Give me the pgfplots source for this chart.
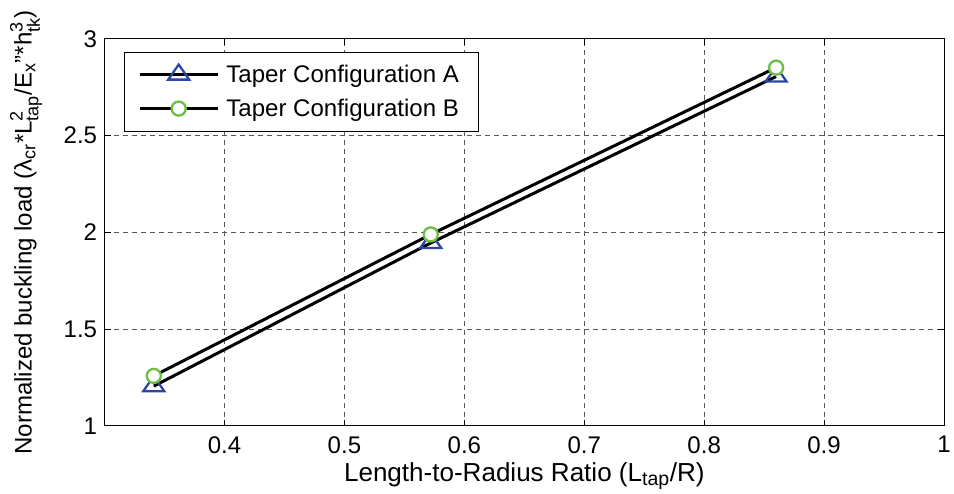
\documentclass[border=0pt]{standalone}
\usepackage{fontspec}
\setmainfont{Liberation Sans}
\usepackage{amsmath}
\usepackage{pgfplots}
\pgfplotsset{compat=1.18}
\DeclareMathSizes{26}{26}{19.5}{15}
\DeclareMathSizes{24}{24}{18}{14}
\definecolor{mblue}{RGB}{45,70,165}
\definecolor{mgreen}{RGB}{110,190,70}
\begin{document}
\begin{tikzpicture}
\begin{axis}[
  scale only axis, width=835bp, height=385bp,
  xmin=0.3, xmax=1, ymin=1, ymax=3,
  enlargelimits=false,
  xtick={0.4,0.5,0.6,0.7,0.8,0.9,1},
  xticklabels={0.4,0.5,0.6,0.7,0.8,0.9,1},
  ytick={1,1.5,2,2.5,3},
  yticklabels={1,1.5,2,2.5,3},
  /pgf/number format/assume math mode=true,
  tick align=inside, major tick length=6bp,
  grid=major,
  grid style={dash pattern=on 5bp off 4bp, black!65, line width=0.7bp},
  axis line style={line width=0.8bp},
  tick style={black, line width=0.8bp},
  ticklabel style={font=\fontsize{24}{28}\selectfont},
  xticklabel style={yshift=-7bp},
  yticklabel style={xshift=-4bp},
  xlabel={Length-to-Radius Ratio (L\textsubscript{tap}/R)},
  xlabel style={font=\fontsize{26}{30}\selectfont, yshift=-2bp, inner ysep=3.7bp},
  ylabel={Normalized buckling load (λ\textsubscript{cr}*L$^{\text{2}}_{\text{tap}}$/E\textsubscript{x}"*h$^{\text{3}}_{\text{tk}}$)},
  ylabel style={font=\fontsize{24}{28}\selectfont, inner ysep=10bp, inner xsep=10bp},
  ylabel shift=8bp,
  legend style={at={(0,1)}, anchor=north west, xshift=19bp, yshift=-13bp,
    font=\fontsize{24}{28}\selectfont, draw=black,
    inner xsep=14bp, inner ysep=10bp, row sep=9bp, column sep=2bp,
    nodes={inner xsep=5bp, inner ysep=3bp},
    cells={anchor=west}},
  legend image code/.code={\draw[mark repeat=2,mark phase=2] plot coordinates {(0bp,0bp)(39bp,0bp)(78bp,0bp)};},
]
\addplot[black, line width=3bp, mark=triangle, mark size=10bp,
  mark options={draw=mblue, fill=white, line width=2.3bp, solid, xscale=1.2}]
  coordinates {(0.341,1.205)(0.572,1.945)(0.86,2.805)};
\addlegendentry{Taper Configuration A}
\addplot[black, line width=3bp, mark=*, mark size=7bp,
  mark options={draw=mgreen, fill=white, line width=2.3bp, solid}]
  coordinates {(0.341,1.258)(0.572,1.989)(0.86,2.851)};
\addlegendentry{Taper Configuration B}
\end{axis}
\end{tikzpicture}
\end{document}
